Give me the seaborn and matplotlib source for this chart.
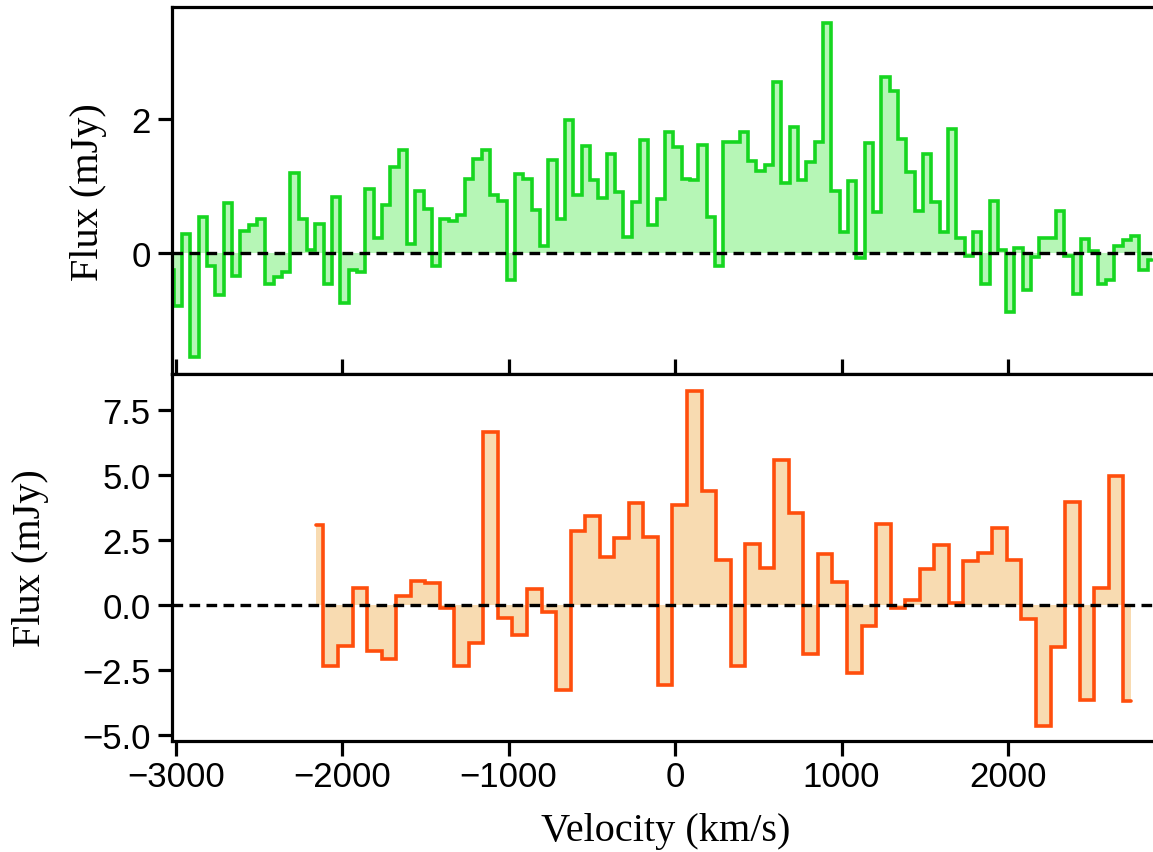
import numpy as np
import pandas as pd
import matplotlib
matplotlib.use("Agg")
import matplotlib.pyplot as plt
import seaborn as sns

# ---------------- data ----------------
# Top spectrum: 50 km/s channels, first channel centre
green_v0 = -3036.0
green_dv = 50.0
green_flux = [
    -0.26, -0.79, 0.28, -1.56, 0.53, -0.19, -0.63, 0.75, -0.34, 0.33,
    0.42, 0.51, -0.46, -0.36, -0.29, 1.19, 0.50, 0.04, 0.43, -0.46,
    0.83, -0.74, -0.26, -0.28, 0.96, 0.23, 0.72, 1.28, 1.53, 0.13,
    0.93, 0.66, -0.19, 0.50, 0.48, 0.56, 1.10, 1.40, 1.53, 0.86,
    0.78, -0.41, 1.18, 1.11, 0.64, 0.10, 1.39, 0.51, 1.98, 0.86,
    1.59, 1.09, 0.82, 1.48, 0.91, 0.24, 0.76, 1.69, 0.42, 0.80,
    1.81, 1.58, 1.10, 1.09, 1.61, 0.53, -0.19, 1.66, 1.65, 1.81,
    1.38, 1.23, 1.31, 2.55, 1.05, 1.88, 1.09, 1.36, 1.66, 3.43,
    0.92, 0.32, 1.08, -0.08, 1.64, 0.61, 2.62, 2.42, 1.70, 1.21,
    0.63, 1.47, 0.76, 0.32, 1.85, 0.23, -0.05, 0.31, -0.46, 0.78,
    0.05, -0.88, 0.07, -0.56, -0.06, 0.22, 0.22, 0.62, -0.04, -0.61,
    0.21, 0.03, -0.46, -0.41, 0.10, 0.20, 0.25, -0.26, -0.11,
]

# Bottom spectrum: ~87 km/s channels
orange_v0 = -2156.0
orange_dv = 87.36
orange_flux = [
    3.10, -2.32, -1.55, 0.68, -1.74, -2.08, 0.36, 0.94, 0.85, -0.10,
    -2.35, -1.45, 6.65, -0.48, -1.13, 0.62, -0.27, -3.27, 2.87, 3.45,
    1.84, 2.57, 3.93, 2.61, -3.05, 3.87, 8.23, 4.41, 1.74, -2.35,
    2.35, 1.42, 5.59, 3.55, -1.87, 1.97, 0.90, -2.61, -0.78, 3.12,
    -0.10, 0.21, 1.39, 2.32, 0.08, 1.69, 2.03, 2.96, 1.75, -0.52,
    -4.64, -1.60, 3.99, -3.63, 0.68, 4.99, -3.70,
]

x_ticks = [-3000, -2000, -1000, 0, 1000, 2000]
top_yticks = [0, 2]
bottom_yticks = [-5.0, -2.5, 0.0, 2.5, 5.0, 7.5]
xlabel = "Velocity (km/s)"
ylabel = "Flux (mJy)"

green_vel = green_v0 + green_dv * np.arange(len(green_flux))
orange_vel = orange_v0 + orange_dv * np.arange(len(orange_flux))
df_g = pd.DataFrame({"v": green_vel, "flux": green_flux})
df_o = pd.DataFrame({"v": orange_vel, "flux": orange_flux})

# ---------------- style ----------------
sns.set_theme(style="ticks")
plt.rcParams["font.family"] = ["Liberation Sans", "DejaVu Sans"]
plt.rcParams["axes.linewidth"] = 2.3
plt.rcParams["axes.edgecolor"] = "black"
plt.rcParams["text.color"] = "black"
plt.rcParams["axes.labelcolor"] = "black"
plt.rcParams["xtick.color"] = "black"
plt.rcParams["ytick.color"] = "black"
plt.rcParams["xtick.labelcolor"] = "black"
plt.rcParams["ytick.labelcolor"] = "black"

GREEN = "#16d620"
GREEN_FILL = "#b6f6b6"
ORANGE = "#ff4e0c"
ORANGE_FILL = "#f8dbb1"
LW = 2.6
TICK_FS = 25
LABEL_FS = 29
serif = ["Liberation Serif", "DejaVu Serif"]

fig = plt.figure(figsize=(11.53, 8.53), dpi=100)
ax1 = fig.add_axes([0.1489, 0.5604, 0.8531, 0.4299])
ax2 = fig.add_axes([0.1489, 0.1305, 0.8531, 0.4299])

for ax, df, col, fcol in [(ax1, df_g, GREEN, GREEN_FILL), (ax2, df_o, ORANGE, ORANGE_FILL)]:
    ax.fill_between(df["v"], df["flux"], 0, step="mid", color=fcol, lw=0, zorder=1)
    sns.lineplot(data=df, x="v", y="flux", ax=ax, color=col, lw=LW,
                 drawstyle="steps-mid", estimator=None, sort=False,
                 solid_joinstyle="miter", zorder=2)
    ax.axhline(0, color="black", lw=2.4, ls=(0, (3.2, 1.9)), zorder=3)
    ax.set_xlim(-3024, 2885)
    ax.set_xticks(x_ticks)
    for s in ax.spines.values():
        s.set_linewidth(2.3)
        s.set_color("black")
        s.set_zorder(5)

# top panel
ax1.set_ylim(-1.806, 3.667)
ax1.set_yticks(top_yticks)
ax1.tick_params(axis="x", direction="in", length=11, width=2.3, labelbottom=False,
                color="black")
ax1.tick_params(axis="y", direction="out", length=10, width=2.3, labelsize=TICK_FS,
                pad=5, color="black", labelcolor="black")
ax1.set_xlabel("")
ax1.set_ylabel(ylabel, fontsize=LABEL_FS, family=serif, va="center", color="black")
ax1.yaxis.set_label_coords(-0.085, 0.5)

# bottom panel
ax2.set_ylim(-5.21, 8.9)
ax2.set_yticks(bottom_yticks)
ax2.set_yticklabels([f"{t:.1f}".replace("-", "\u2212") for t in bottom_yticks])
ax2.tick_params(axis="x", direction="out", length=11, width=2.3, labelsize=TICK_FS,
                pad=3, color="black", labelcolor="black")
ax2.tick_params(axis="y", direction="out", length=10, width=2.3, labelsize=TICK_FS,
                pad=5, color="black", labelcolor="black")
ax2.set_xlabel(xlabel, fontsize=LABEL_FS, family=serif, va="center", color="black")
ax2.xaxis.set_label_coords(0.5026, -0.246)
ax2.set_ylabel(ylabel, fontsize=LABEL_FS, family=serif, va="center", color="black")
ax2.yaxis.set_label_coords(-0.144, 0.5)

fig.savefig("out.png", dpi=100)
